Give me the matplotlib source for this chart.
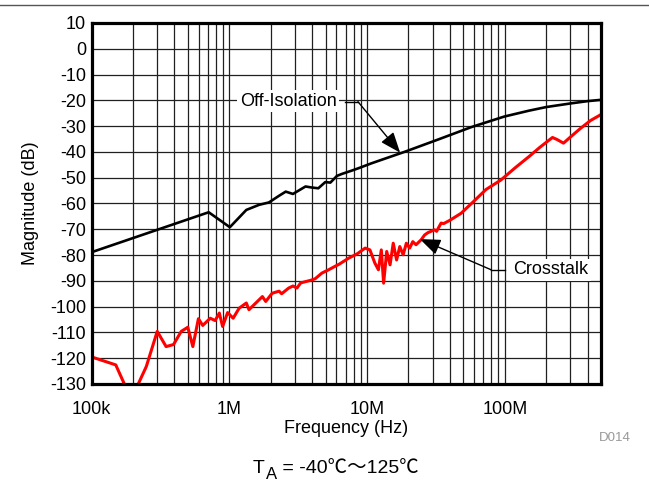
#!/usr/bin/env python3
# -*- coding: utf-8 -*-
"""
Off-isolation and crosstalk magnitude versus frequency
"""
# import libraries
import matplotlib
matplotlib.use("Agg")
import matplotlib.pyplot as plt
from matplotlib.lines import Line2D
from matplotlib.ticker import LogLocator, FixedLocator, NullFormatter

plt.rcParams['font.family'] = ['Liberation Sans', 'Noto Sans CJK JP',
                               'DejaVu Sans']
plt.rcParams['axes.unicode_minus'] = False

# Off-isolation curve (Hz, dB)
off_freq = [1e5, 7.09e5, 1.01e6, 1.33e6, 1.65e6, 1.94e6, 2.3e6, 2.57e6,
            2.9e6, 3.58e6, 3.96e6, 4.43e6, 4.98e6, 5.42e6, 6.05e6, 6.6e6,
            7.8e6, 8.7e6, 10.8e6, 18.9e6, 32.8e6, 57e6, 99e6, 150e6,
            200e6, 300e6, 400e6, 500e6]
off_db = [-78.9, -63.4, -69.2, -62.5, -60.5, -59.6, -57.0, -55.4,
          -56.3, -53.4, -53.8, -54.1, -51.7, -51.9, -49.3, -48.5,
          -47.2, -46.3, -44.4, -39.9, -35.2, -30.4, -26.3, -24.0,
          -22.6, -21.2, -20.3, -19.8]

# Crosstalk curve (Hz, dB)
xt_freq = [1e5, 1.5e5, 1.8e5, 2.1e5, 2.5e5, 3.0e5, 3.48e5, 3.94e5, 4.48e5,
           5.0e5, 5.44e5, 5.97e5, 6.42e5, 7.28e5, 7.9e5, 8.47e5, 8.95e5,
           9.73e5, 1.067e6, 1.18e6, 1.33e6, 1.39e6, 1.74e6, 1.84e6, 2.05e6,
           2.3e6, 2.4e6, 2.7e6, 2.9e6, 3.1e6, 3.3e6, 3.58e6, 3.9e6, 4.2e6,
           4.4e6, 4.7e6, 5.27e6, 5.8e6, 6.3e6, 7.36e6, 8.5e6, 9.7e6,
           10.5e6, 11.4e6, 12.1e6, 12.7e6, 13.2e6, 13.9e6, 14.7e6, 15.5e6,
           16.4e6, 17.3e6, 18.3e6, 19.3e6, 20.4e6, 21.5e6, 22.7e6, 24.7e6,
           26.2e6, 27.7e6, 30.9e6, 32e6, 34.5e6, 36e6, 40e6, 48.2e6, 60e6,
           73e6, 93.7e6, 120e6, 150e6, 180e6, 222e6, 240e6, 267e6, 300e6,
           356e6, 420e6, 500e6]
xt_db = [-119.5, -122.6, -132.0, -132.0, -123.2, -109.6, -115.5, -114.7,
         -109.6, -108.0, -115.5, -104.7, -107.3, -104.5, -105.4, -102.5,
         -107.7, -102.3, -104.5, -100.6, -98.6, -101.2, -96.1, -98.0, -94.8,
         -94.0, -95.0, -92.8, -92.0, -92.8, -90.8, -90.3, -89.8, -89.2,
         -88.3, -87.0, -85.7, -84.5, -83.5, -81.2, -79.5, -77.3,
         -78.0, -83.1, -85.7, -78.0, -90.9, -78.6, -83.8, -75.4,
         -81.9, -76.7, -79.9, -75.4, -77.3, -74.8, -76.0, -74.1,
         -72.2, -71.3, -70.2, -70.8, -67.6, -67.8, -66.5, -63.8, -59.0,
         -54.6, -50.9, -46.0, -41.8, -38.2, -34.4, -35.2, -36.6, -34.2,
         -30.8, -27.8, -25.5]

# axis ticks
y_ticks = list(range(-130, 11, 10))
x_ticks = [1e5, 1e6, 1e7, 1e8]
x_tick_labels = ['100k', '1M', '10M', '100M']


fig = plt.figure(figsize=(6.49, 4.83), dpi=100)
ax = fig.add_axes([0.141, 0.205, 0.7851, 0.7474])

# thin rule across the top of the page
fig.add_artist(Line2D([0, 1], [0.989, 0.989], color='#555555', lw=1.0))

ax.plot(off_freq, off_db, color='black', lw=1.9, zorder=3)
ax.plot(xt_freq, xt_db, color='#ff0000', lw=2.2, zorder=3)

ax.set_xscale('log')
ax.set_xlim(1e5, 5e8)
ax.set_ylim(-130, 10)

ax.xaxis.set_major_locator(FixedLocator(x_ticks))
ax.set_xticklabels(x_tick_labels)
ax.xaxis.set_minor_locator(LogLocator(base=10, subs=range(2, 10)))
ax.xaxis.set_minor_formatter(NullFormatter())
ax.set_yticks(y_ticks)

ax.grid(True, which='both', color='#202020', lw=0.9)
ax.tick_params(which='both', length=0, labelsize=13)
ax.tick_params(axis='x', pad=12)
ax.tick_params(axis='y', pad=4)
for sp in ax.spines.values():
    sp.set_linewidth(2.3)
    sp.set_zorder(4)

ax.set_xlabel('Frequency (Hz)', fontsize=13, labelpad=2)
ax.set_ylabel('Magnitude (dB)', fontsize=13, labelpad=8)

# annotation: Off-Isolation
box = dict(facecolor='white', edgecolor='none', pad=2)
arrow = dict(arrowstyle='-|>,head_length=0.9,head_width=0.35', color='black',
             lw=1.0, mutation_scale=14, shrinkA=0, shrinkB=0)
ax.text(2.67e6, -20.3, 'Off-Isolation', fontsize=13, ha='center',
        va='center', bbox=box, zorder=5)
ax.plot([6.9e6, 8.59e6], [-20.5, -20.5], color='black', lw=1.0, zorder=5)
ax.annotate('', xy=(17.4e6, -40.3), xytext=(8.59e6, -20.5),
            arrowprops=arrow, zorder=5)

# annotation: Crosstalk
ax.text(2.15e8, -85.7, 'Crosstalk', fontsize=13, ha='center', va='center',
        bbox=box, zorder=5)
ax.plot([79.6e6, 1.0e8], [-85.7, -85.7], color='black', lw=1.0, zorder=5)
ax.annotate('', xy=(24.2e6, -73.8), xytext=(79.6e6, -85.7),
            arrowprops=arrow, zorder=5)

# figure id and temperature note
fig.text(0.947, 0.087, 'D014', fontsize=9.5, color='#999999', ha='center')
t1 = fig.text(0.39, 0.02, 'T', fontsize=14)
t2 = ax.annotate('A', xy=(1, 0), xycoords=t1, xytext=(0.5, -3),
                 textcoords='offset points', fontsize=12, va='bottom')
ax.annotate(' = -40℃～125℃', xy=(1, 0), xycoords=t2, xytext=(0.5, 3),
            textcoords='offset points', fontsize=14, va='bottom')

plt.savefig('out.png', dpi=100)
